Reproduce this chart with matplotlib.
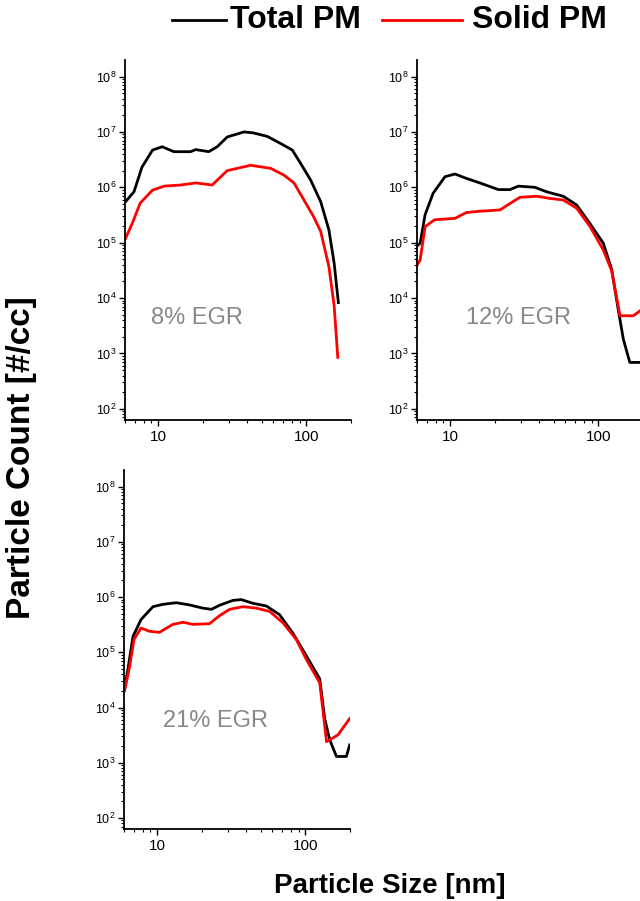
import matplotlib
matplotlib.use("Agg")
import matplotlib.pyplot as plt
from matplotlib.lines import Line2D
from matplotlib.ticker import LogLocator, NullFormatter

plt.rcParams['font.family'] = ['Liberation Sans', 'DejaVu Sans']
plt.rcParams['mathtext.fontset'] = 'custom'
plt.rcParams['mathtext.rm'] = 'Liberation Sans'

# 8% EGR
x8_total = [6.05, 6.9, 7.8, 9.2, 10.7, 12.8, 16.6, 18, 22, 25.1, 29.3, 38, 44, 54.6, 67, 80.5, 91.6, 107, 125, 142, 154, 164.5]
y8_total = [5.5e5, 8.3e5, 2.3e6, 4.7e6, 5.4e6, 4.4e6, 4.4e6, 4.8e6, 4.4e6, 5.4e6, 8.1e6, 1.0e7, 9.6e6, 8.3e6, 6.2e6, 4.7e6, 2.7e6, 1.35e6, 5.5e5, 1.7e5, 4.3e4, 8.3e3]
x8_solid = [6.05, 6.7, 7.6, 9.2, 11, 14.2, 18, 23.2, 29.3, 42.2, 57.5, 70.7, 82.6, 96.4, 112, 125, 142, 154, 163]
y8_solid = [1.2e5, 2.2e5, 5.2e5, 8.9e5, 1.05e6, 1.1e6, 1.2e6, 1.1e6, 2.0e6, 2.5e6, 2.2e6, 1.66e6, 1.2e6, 5.9e5, 2.95e5, 1.6e5, 3.7e4, 7.3e3, 8.5e2]

# 12% EGR
x12_total = [5.96, 6.3, 6.8, 7.7, 9.25, 10.8, 12.9, 15.9, 21.2, 25.4, 28.9, 37.4, 44.8, 58, 71.4, 88, 108, 123, 136, 147.5, 163, 191, 200]
y12_total = [8.6e4, 9.8e4, 3.2e5, 7.8e5, 1.55e6, 1.74e6, 1.45e6, 1.2e6, 9.1e5, 9.1e5, 1.05e6, 1.0e6, 8.3e5, 6.9e5, 4.8e5, 2.2e5, 9.8e4, 3.3e4, 6.3e3, 1.8e3, 6.9e2, 6.9e2, 6.9e2]
x12_solid = [5.96, 6.3, 6.8, 7.9, 10.8, 12.9, 15.9, 21.7, 25.4, 29.6, 38.4, 47.2, 58, 71.4, 88, 108, 123, 140, 172, 191, 200]
y12_solid = [3.8e4, 4.9e4, 1.95e5, 2.6e5, 2.75e5, 3.5e5, 3.7e5, 3.9e5, 5.1e5, 6.6e5, 6.9e5, 6.3e5, 5.9e5, 4.2e5, 1.95e5, 7.4e4, 3.1e4, 4.8e3, 4.8e3, 5.9e3, 6.3e3]

# 21% EGR
x21_total = [6.05, 6.37, 6.9, 7.8, 9.4, 11, 13.5, 16.6, 20.4, 23.3, 26.4, 32.5, 37, 44.4, 54.6, 67, 82.6, 101.6, 125, 135, 146, 162, 189, 199]
y21_total = [2.2e4, 4.9e4, 1.95e5, 3.9e5, 6.7e5, 7.4e5, 7.9e5, 7.2e5, 6.3e5, 6.0e5, 7.1e5, 8.7e5, 9.0e5, 7.7e5, 6.9e5, 4.8e5, 2.2e5, 8.6e4, 3.3e4, 6.3e3, 2.6e3, 1.3e3, 1.3e3, 2.1e3]
x21_solid = [6.05, 6.55, 7.0, 7.8, 8.9, 10.4, 12.8, 15.0, 17.5, 22.6, 26.4, 30.9, 38, 46.8, 57.5, 70.7, 87, 101.6, 125, 139, 166, 199]
y21_solid = [2.0e4, 5.6e4, 1.7e5, 2.75e5, 2.4e5, 2.3e5, 3.2e5, 3.5e5, 3.2e5, 3.3e5, 4.6e5, 6.0e5, 6.7e5, 6.3e5, 5.5e5, 3.4e5, 1.7e5, 7.4e4, 2.8e4, 2.4e3, 3.2e3, 6.3e3]

panels = [
    ("8% EGR", x8_total, y8_total, x8_solid, y8_solid, 8.97, 10**3.64),
    ("12% EGR", x12_total, y12_total, x12_solid, y12_solid, 12.8, 10**3.64),
    ("21% EGR", x21_total, y21_total, x21_solid, y21_solid, 11, 10**3.75),
]
positions = [
    [0.1953, 0.5339, 0.3531, 0.3996],
    [0.6516, 0.5339, 0.3531, 0.3996],
    [0.1938, 0.0799, 0.3531, 0.3984],
]

fig = plt.figure(figsize=(6.4, 9.01), dpi=100)

for (label, xt, yt, xs, ys, tx, ty), pos in zip(panels, positions):
    ax = fig.add_axes(pos)
    ax.plot(xt, yt, color='black', lw=2)
    ax.plot(xs, ys, color='red', lw=2)
    ax.set_xscale('log')
    ax.set_yscale('log')
    ax.set_xlim(6, 200)
    ax.set_ylim(10**1.8, 10**8.3)
    ax.set_yticks([1e2, 1e3, 1e4, 1e5, 1e6, 1e7, 1e8])
    ax.yaxis.set_minor_locator(LogLocator(base=10, subs=range(2, 10), numticks=20))
    ax.yaxis.set_minor_formatter(NullFormatter())
    ax.set_xticks([10, 100])
    ax.set_xticklabels(['10', '100'])
    ax.xaxis.set_minor_formatter(NullFormatter())
    ax.spines['top'].set_visible(False)
    ax.spines['right'].set_visible(False)
    ax.spines['left'].set_linewidth(1.3)
    ax.spines['bottom'].set_linewidth(1.3)
    ax.tick_params(axis='y', which='major', length=4, width=1, labelsize=9, pad=2)
    ax.tick_params(axis='y', which='minor', length=2, width=0.8)
    ax.tick_params(axis='x', which='major', length=4, width=1, labelsize=11, pad=3)
    ax.tick_params(axis='x', which='minor', length=2, width=0.8)
    ax.text(tx, ty, label, color='#888888', fontsize=17, va='center', ha='left')

# legend
fig.add_artist(Line2D([0.269, 0.353], [0.978, 0.978], color='black', lw=2))
fig.text(0.359, 0.978, "Total PM", fontsize=23, fontweight='bold', va='center')
fig.add_artist(Line2D([0.597, 0.722], [0.978, 0.978], color='red', lw=2))
fig.text(0.7375, 0.978, "Solid PM", fontsize=23, fontweight='bold', va='center')

fig.text(0.034, 0.492, "Particle Count [#/cc]", fontsize=24, fontweight='bold',
         rotation=90, ha='center', va='center')
fig.text(0.609, 0.017, "Particle Size [nm]", fontsize=20, fontweight='bold',
         ha='center', va='center')

fig.savefig("out.png", dpi=100)
